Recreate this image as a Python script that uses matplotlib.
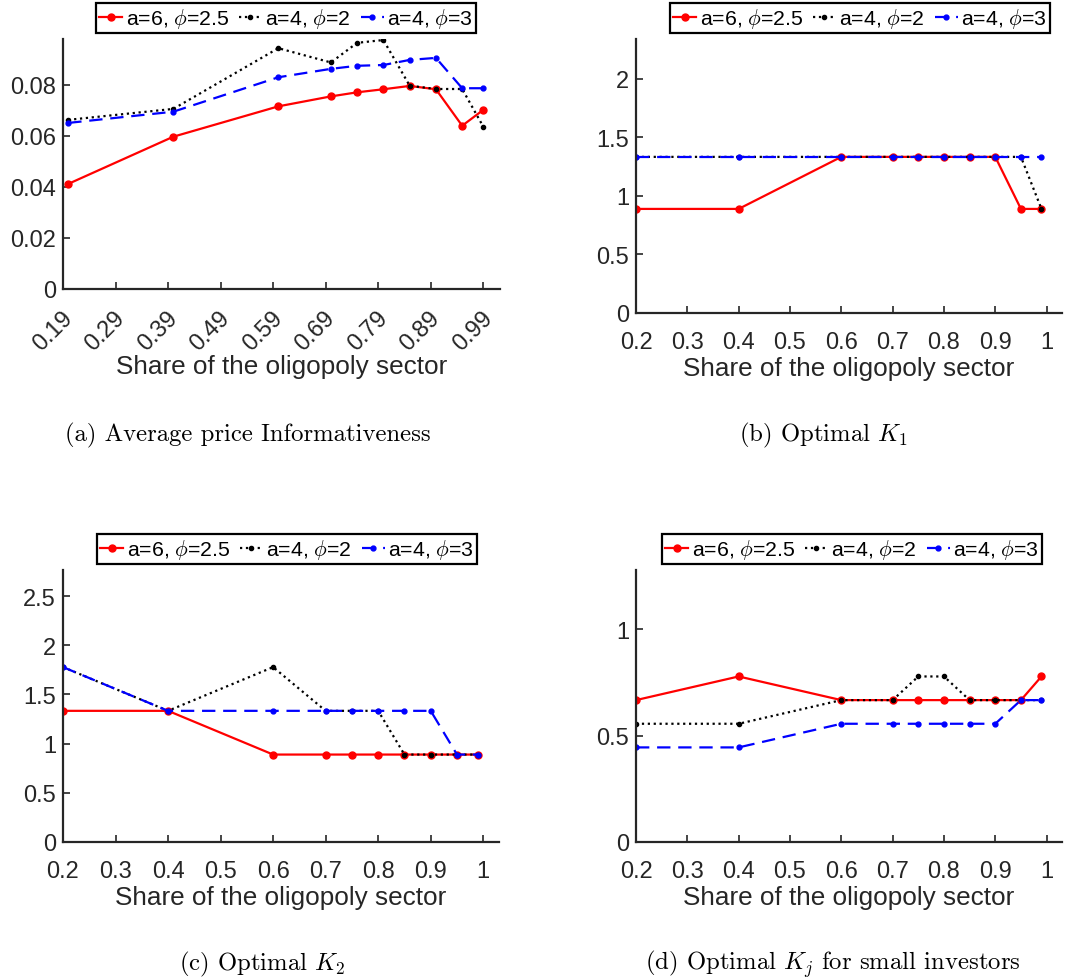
import matplotlib
matplotlib.use('Agg')
import numpy as np
import matplotlib.pyplot as plt
import matplotlib.transforms as mtransforms

plt.rcParams['font.family'] = ['Liberation Sans', 'DejaVu Sans']
plt.rcParams['mathtext.fontset'] = 'cm'

# share of the oligopoly sector
share = [0.2, 0.4, 0.6, 0.7, 0.75, 0.8, 0.85, 0.9, 0.95, 0.99]
labels = ['a=6, $\\phi$=2.5', 'a=4, $\\phi$=2', 'a=4, $\\phi$=3']

# (a) average price informativeness
info_a6 = [0.0412, 0.0597, 0.0716, 0.0755, 0.0771, 0.0783, 0.0796, 0.0783, 0.0640, 0.0702]
info_a4p2 = [0.0663, 0.0706, 0.0944, 0.0888, 0.0965, 0.0976, 0.0797, 0.0784, 0.0784, 0.0637]
info_a4p3 = [0.0651, 0.0695, 0.0830, 0.0863, 0.0875, 0.0878, 0.0898, 0.0906, 0.0787, 0.0787]

# (b) optimal K1
k1_a6 = [8/9, 8/9, 4/3, 4/3, 4/3, 4/3, 4/3, 4/3, 8/9, 8/9]
k1_a4p2 = [4/3, 4/3, 4/3, 4/3, 4/3, 4/3, 4/3, 4/3, 4/3, 8/9]
k1_a4p3 = [4/3] * 10

# (c) optimal K2
k2_a6 = [4/3, 4/3, 8/9, 8/9, 8/9, 8/9, 8/9, 8/9, 8/9, 8/9]
k2_a4p2 = [16/9, 4/3, 16/9, 4/3, 4/3, 4/3, 8/9, 8/9, 8/9, 8/9]
k2_a4p3 = [16/9, 4/3, 4/3, 4/3, 4/3, 4/3, 4/3, 4/3, 8/9, 8/9]

# (d) optimal Kj for small investors
kj_a6 = [6/9, 7/9, 6/9, 6/9, 6/9, 6/9, 6/9, 6/9, 6/9, 7/9]
kj_a4p2 = [5/9, 5/9, 6/9, 6/9, 7/9, 7/9, 6/9, 6/9, 6/9, 6/9]
kj_a4p3 = [4/9, 4/9, 5/9, 5/9, 5/9, 5/9, 5/9, 5/9, 6/9, 6/9]

W, H = 1083, 979
fig = plt.figure(figsize=(W / 100, H / 100), dpi=100)
GRAY = '#262626'


def make_ax(left, right, top, bottom):
    return fig.add_axes([left / W, 1 - bottom / H, (right - left) / W, (bottom - top) / H])


def draw(ax, ys, leg_xy):
    l1, = ax.plot(share, ys[0], '-o', color='red', lw=1.6, ms=5, mfc='red', mec='red')
    l2, = ax.plot(share, ys[1], ':.', color='black', lw=1.6, ms=6)
    l3, = ax.plot(share, ys[2], '--.', color='blue', lw=1.6, ms=7, dashes=(6, 3.5))
    for s in ['top', 'right']:
        ax.spines[s].set_visible(False)
    for s in ['left', 'bottom']:
        ax.spines[s].set_linewidth(1.6)
        ax.spines[s].set_color(GRAY)
    ax.tick_params(direction='in', length=5, width=1.2, colors=GRAY, labelsize=17, labelcolor=GRAY)
    ax.tick_params(axis='x', pad=13)
    ax.tick_params(axis='y', pad=5)
    ax.set_xlabel('Share of the oligopoly sector', fontsize=18.8, color=GRAY, labelpad=2)
    leg = fig.legend([l1, l2, l3], labels, loc='center', bbox_to_anchor=leg_xy,
                     bbox_transform=fig.transFigure, ncol=3, fontsize=15.3,
                     handlelength=1.1, handletextpad=0.15, columnspacing=0.45,
                     borderpad=0.15, borderaxespad=0, fancybox=False, framealpha=1)
    leg.get_frame().set_edgecolor('black')
    leg.get_frame().set_linewidth(1.6)


# (a)
ax = make_ax(63, 500, 40, 290)
draw(ax, [info_a6, info_a4p2, info_a4p3], (286 / W, 1 - 19 / H))
ax.set_xlim(0.19, 1.022)
ax.set_ylim(0, 0.098)
ticks_a = [0.19, 0.29, 0.39, 0.49, 0.59, 0.69, 0.79, 0.89, 0.99]
ax.set_xticks(ticks_a)
ax.set_xticklabels(['%.2f' % v for v in ticks_a], rotation=45,
                   ha='right', va='center', rotation_mode='anchor')
ax.tick_params(axis='x', pad=18)
ax.xaxis.labelpad = 0
shift = mtransforms.ScaledTranslation(6 / 100, 0, fig.dpi_scale_trans)
for lab in ax.get_xticklabels():
    lab.set_transform(lab.get_transform() + shift)
ax.set_yticks([0, 0.02, 0.04, 0.06, 0.08])
ax.set_yticklabels(['0', '0.02', '0.04', '0.06', '0.08'])

xt = [0.2, 0.3, 0.4, 0.5, 0.6, 0.7, 0.8, 0.9, 1.0]
xtl = ['0.2', '0.3', '0.4', '0.5', '0.6', '0.7', '0.8', '0.9', '1']

# (b)
ax = make_ax(636, 1062, 40, 314)
draw(ax, [k1_a6, k1_a4p2, k1_a4p3], (860 / W, 1 - 19 / H))
ax.set_xlim(0.2, 1.03)
ax.set_ylim(0, 2.34)
ax.set_xticks(xt)
ax.set_xticklabels(xtl)
ax.set_yticks([0, 0.5, 1, 1.5, 2])
ax.set_yticklabels(['0', '0.5', '1', '1.5', '2'])

# (c)
ax = make_ax(63, 499, 571, 843)
draw(ax, [k2_a6, k2_a4p2, k2_a4p3], (287 / W, 1 - 550 / H))
ax.set_xlim(0.2, 1.03)
ax.set_ylim(0, 2.765)
ax.set_xticks(xt)
ax.set_xticklabels(xtl)
ax.set_yticks([0, 0.5, 1, 1.5, 2, 2.5])
ax.set_yticklabels(['0', '0.5', '1', '1.5', '2', '2.5'])

# (d)
ax = make_ax(636, 1062, 571, 843)
draw(ax, [kj_a6, kj_a4p2, kj_a4p3], (852 / W, 1 - 550 / H))
ax.set_xlim(0.2, 1.03)
ax.set_ylim(0, 1.278)
ax.set_xticks(xt)
ax.set_xticklabels(xtl)
ax.set_yticks([0, 0.5, 1])
ax.set_yticklabels(['0', '0.5', '1'])

# sub-captions
cap = dict(fontsize=17.8, family='cmr10', ha='center', va='center')
fig.text(248 / W, 1 - 435 / H, '(a) Average price Informativeness', **cap)
fig.text(823 / W, 1 - 435 / H, '(b) Optimal $K_1$', **cap)
fig.text(262 / W, 1 - 964 / H, '(c) Optimal $K_2$', **cap)
fig.text(833 / W, 1 - 964 / H, '(d) Optimal $K_j$ for small investors', **cap)

fig.savefig('out.png', dpi=100)
